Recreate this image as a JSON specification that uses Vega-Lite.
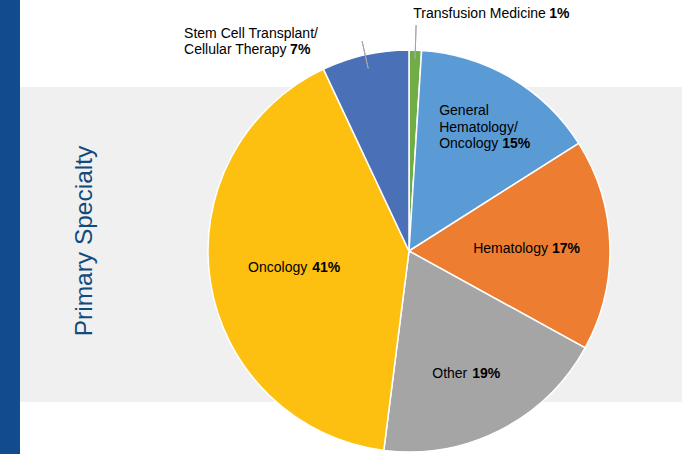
{
  "$schema": "https://vega.github.io/schema/vega-lite/v6.json",
  "padding": 0,
  "background": "white",
  "spacing": 0,
  "bounds": "flush",
  "config": {
    "view": {"stroke": null},
    "concat": {"spacing": 0},
    "text": {"font": "Liberation Sans"}
  },
  "hconcat": [
    {
      "width": 20,
      "height": 454,
      "view": {"fill": "#124B8E", "stroke": null},
      "data": {"values": [{}]},
      "mark": {"type": "rect", "color": "#124B8E"}
    },
    {
      "spacing": 0,
      "bounds": "flush",
      "vconcat": [
        {
          "width": 662,
          "height": 87,
          "data": {"values": [{}]},
          "mark": {"type": "rect", "opacity": 0}
        },
        {
          "spacing": 0,
          "bounds": "flush",
          "hconcat": [
            {
              "width": 116,
              "height": 315,
              "view": {"fill": "#F0F0F0", "stroke": null},
              "data": {"values": [{"t": "Primary Specialty"}]},
              "mark": {"type": "text", "angle": 270, "fontSize": 24.5, "font": "Liberation Sans", "color": "#134A7C", "baseline": "alphabetic", "align": "center", "dx": 3.5, "dy": 14},
              "encoding": {"text": {"field": "t", "type": "nominal"}}
            },
            {
              "width": 546,
              "height": 315,
              "view": {"fill": "#F0F0F0", "stroke": null},
              "data": {
                "values": [
                  {"category": "Transfusion Medicine", "label": "Transfusion Medicine", "pct": "1%", "value": 1, "order": 1},
                  {"category": "General Hematology/Oncology", "label": "General\nHematology/\nOncology", "pct": "15%", "value": 15, "order": 2},
                  {"category": "Hematology", "label": "Hematology", "pct": "17%", "value": 17, "order": 3},
                  {"category": "Other", "label": "Other", "pct": "19%", "value": 19, "order": 4},
                  {"category": "Oncology", "label": "Oncology", "pct": "41%", "value": 41, "order": 5},
                  {"category": "Stem Cell Transplant/Cellular Therapy", "label": "Stem Cell Transplant/\nCellular Therapy", "pct": "7%", "value": 7, "order": 6}
                ]
              },
              "encoding": {
                "theta": {"field": "value", "type": "quantitative", "stack": true},
                "order": {"field": "order", "type": "quantitative"},
                "detail": {"field": "category", "type": "nominal"}
              },
              "layer": [
                {
                  "mark": {"type": "arc", "outerRadius": 201, "stroke": "white", "strokeWidth": 1.5, "yOffset": 6.5},
                  "encoding": {
                    "color": {
                      "field": "category",
                      "type": "nominal",
                      "scale": {
                        "domain": ["Transfusion Medicine", "General Hematology/Oncology", "Hematology", "Other", "Oncology", "Stem Cell Transplant/Cellular Therapy"],
                        "range": ["#70AD47", "#5B9BD5", "#ED7D31", "#A5A5A5", "#FDC010", "#4A70B7"]
                      },
                      "legend": null
                    }
                  }
                },
                {
                  "mark": {"type": "arc", "innerRadius": 192, "outerRadius": 226, "padAngle": 3, "fillOpacity": 0, "stroke": "#A6A6A6", "strokeWidth": 1, "yOffset": 6.5},
                  "encoding": {"strokeOpacity": {"condition": {"test": "datum.category === 'Transfusion Medicine'", "value": 1}, "value": 0}}
                },
                {
                  "mark": {"type": "arc", "innerRadius": 187, "outerRadius": 215, "padAngle": 3, "fillOpacity": 0, "stroke": "#A6A6A6", "strokeWidth": 1, "yOffset": 6.5},
                  "encoding": {"strokeOpacity": {"condition": {"test": "datum.category === 'Stem Cell Transplant/Cellular Therapy'", "value": 1}, "value": 0}}
                },
                {
                  "mark": {"type": "text", "radius": 233, "align": "left", "baseline": "alphabetic", "dx": -3, "dy": 6.5, "fontSize": 14, "color": "black"},
                  "encoding": {"text": {"condition": {"test": "datum.category === 'Transfusion Medicine'", "field": "label", "type": "nominal"}, "value": ""}}
                },
                {
                  "mark": {"type": "text", "radius": 233, "align": "left", "baseline": "alphabetic", "dx": 133, "dy": 6.5, "fontSize": 14, "fontWeight": "bold", "color": "black"},
                  "encoding": {"text": {"condition": {"test": "datum.category === 'Transfusion Medicine'", "field": "pct", "type": "nominal"}, "value": ""}}
                },
                {
                  "mark": {"type": "text", "radius": 130, "align": "left", "baseline": "alphabetic", "lineBreak": "\n", "lineHeight": 16.5, "dx": -36, "dy": -17.5, "fontSize": 14, "color": "black"},
                  "encoding": {"text": {"condition": {"test": "datum.category === 'General Hematology/Oncology'", "field": "label", "type": "nominal"}, "value": ""}}
                },
                {
                  "mark": {"type": "text", "radius": 130, "align": "left", "baseline": "alphabetic", "dx": 27, "dy": 15.5, "fontSize": 14, "fontWeight": "bold", "color": "black"},
                  "encoding": {"text": {"condition": {"test": "datum.category === 'General Hematology/Oncology'", "field": "pct", "type": "nominal"}, "value": ""}}
                },
                {
                  "mark": {"type": "text", "radius": 141, "align": "right", "baseline": "middle", "dx": -2, "dy": 8.5, "fontSize": 14, "color": "black"},
                  "encoding": {"text": {"condition": {"test": "datum.category === 'Hematology'", "field": "label", "type": "nominal"}, "value": ""}}
                },
                {
                  "mark": {"type": "text", "radius": 141, "align": "left", "baseline": "middle", "dx": 2, "dy": 8.5, "fontSize": 14, "fontWeight": "bold", "color": "black"},
                  "encoding": {"text": {"condition": {"test": "datum.category === 'Hematology'", "field": "pct", "type": "nominal"}, "value": ""}}
                },
                {
                  "mark": {"type": "text", "radius": 135, "align": "right", "baseline": "middle", "dx": -3, "dy": 9, "fontSize": 14, "color": "black"},
                  "encoding": {"text": {"condition": {"test": "datum.category === 'Other'", "field": "label", "type": "nominal"}, "value": ""}}
                },
                {
                  "mark": {"type": "text", "radius": 135, "align": "left", "baseline": "middle", "dx": 2, "dy": 9, "fontSize": 14, "fontWeight": "bold", "color": "black"},
                  "encoding": {"text": {"condition": {"test": "datum.category === 'Other'", "field": "pct", "type": "nominal"}, "value": ""}}
                },
                {
                  "mark": {"type": "text", "radius": 100, "align": "right", "baseline": "middle", "dx": -3, "dy": 7.5, "fontSize": 14, "color": "black"},
                  "encoding": {"text": {"condition": {"test": "datum.category === 'Oncology'", "field": "label", "type": "nominal"}, "value": ""}}
                },
                {
                  "mark": {"type": "text", "radius": 100, "align": "left", "baseline": "middle", "dx": 2, "dy": 7.5, "fontSize": 14, "fontWeight": "bold", "color": "black"},
                  "encoding": {"text": {"condition": {"test": "datum.category === 'Oncology'", "field": "pct", "type": "nominal"}, "value": ""}}
                },
                {
                  "mark": {"type": "text", "radius": 215, "align": "left", "baseline": "alphabetic", "lineBreak": "\n", "lineHeight": 16, "dx": -178, "dy": 3.5, "fontSize": 14, "color": "black"},
                  "encoding": {"text": {"condition": {"test": "datum.category === 'Stem Cell Transplant/Cellular Therapy'", "field": "label", "type": "nominal"}, "value": ""}}
                },
                {
                  "mark": {"type": "text", "radius": 215, "align": "left", "baseline": "alphabetic", "dx": -72, "dy": 19.5, "fontSize": 14, "fontWeight": "bold", "color": "black"},
                  "encoding": {"text": {"condition": {"test": "datum.category === 'Stem Cell Transplant/Cellular Therapy'", "field": "pct", "type": "nominal"}, "value": ""}}
                }
              ]
            }
          ]
        },
        {
          "width": 662,
          "height": 52,
          "data": {"values": [{}]},
          "mark": {"type": "rect", "opacity": 0}
        }
      ]
    }
  ]
}
